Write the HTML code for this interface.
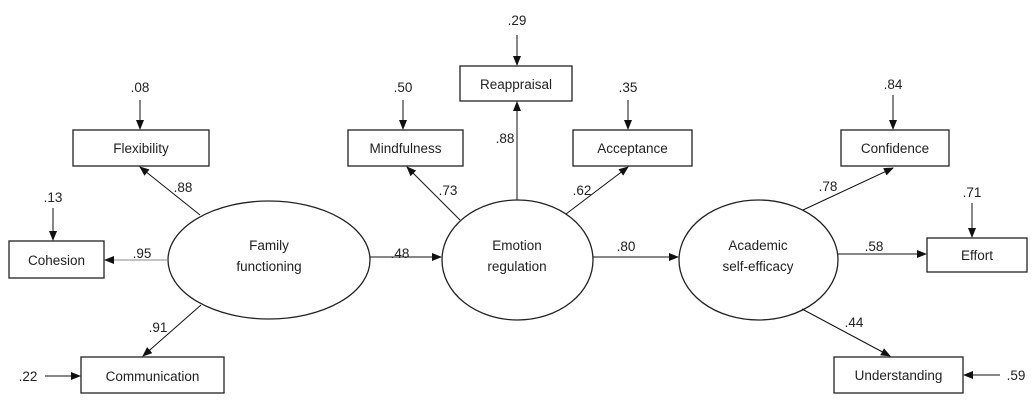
<!DOCTYPE html>
<html><head><meta charset="utf-8"><style>
html,body{margin:0;padding:0;background:#fff;}
svg{display:block;}
text{font-family:"Liberation Sans",sans-serif;font-size:13.5px;fill:#222;}
</style></head><body>
<svg width="1033" height="408" viewBox="0 0 1033 408" xmlns="http://www.w3.org/2000/svg">
<defs><marker id="a" markerWidth="10" markerHeight="8" refX="9" refY="4" orient="auto" markerUnits="userSpaceOnUse"><path d="M0,0 L10,4 L0,8 z" fill="#111"/></marker></defs>
<g fill="#fff" stroke="#222" stroke-width="1.3">
<rect x="73" y="130" width="136" height="36"/>
<rect x="9" y="241" width="95" height="37"/>
<rect x="81" y="357" width="143" height="36"/>
<rect x="348" y="130" width="115" height="36"/>
<rect x="460" y="66" width="112" height="35"/>
<rect x="573" y="130" width="119" height="36"/>
<rect x="841" y="130" width="108" height="36"/>
<rect x="927" y="238" width="100" height="34"/>
<rect x="834" y="357" width="129" height="36"/>
<ellipse cx="269" cy="260" rx="101" ry="59"/>
<ellipse cx="517.5" cy="260" rx="75.5" ry="60"/>
<ellipse cx="758.5" cy="260" rx="79.5" ry="60"/>
</g>
<g stroke="#111" stroke-width="1" marker-end="url(#a)">
<line x1="200" y1="215" x2="140" y2="167"/>
<line x1="168" y1="260" x2="105" y2="260" stroke="#888"/>
<line x1="201" y1="305" x2="143" y2="356"/>
<line x1="140" y1="100" x2="140" y2="129"/>
<line x1="53" y1="208" x2="53" y2="240"/>
<line x1="45" y1="376" x2="80" y2="376"/>
<line x1="370" y1="257" x2="441" y2="257"/>
<line x1="460" y1="220" x2="407" y2="167"/>
<line x1="517" y1="200" x2="517" y2="102"/>
<line x1="517" y1="35" x2="517" y2="65"/>
<line x1="566" y1="214" x2="628" y2="167"/>
<line x1="628" y1="100" x2="628" y2="129"/>
<line x1="403" y1="100" x2="403" y2="129"/>
<line x1="593" y1="257" x2="678" y2="257"/>
<line x1="803" y1="210" x2="893" y2="168"/>
<line x1="893" y1="95" x2="893" y2="129"/>
<line x1="838" y1="254" x2="926" y2="254"/>
<line x1="972" y1="203" x2="972" y2="237"/>
<line x1="802" y1="309" x2="890" y2="356"/>
<line x1="1000" y1="375" x2="964" y2="375"/>
</g>
<g text-anchor="middle">
<text x="141" y="153">Flexibility</text>
<text x="56.5" y="265">Cohesion</text>
<text x="152.5" y="381">Communication</text>
<text x="405.5" y="153">Mindfulness</text>
<text x="516" y="89">Reappraisal</text>
<text x="632.5" y="153">Acceptance</text>
<text x="895" y="153">Confidence</text>
<text x="977" y="260">Effort</text>
<text x="898.5" y="380">Understanding</text>
<text x="269" y="250">Family</text>
<text x="269" y="271">functioning</text>
<text x="517" y="250">Emotion</text>
<text x="517" y="271">regulation</text>
<text x="758" y="250">Academic</text>
<text x="758" y="271">self-efficacy</text>
<text x="140" y="92">.08</text>
<text x="53" y="202">.13</text>
<text x="28" y="381">.22</text>
<text x="183" y="192">.88</text>
<text x="142" y="258">.95</text>
<text x="158" y="332">.91</text>
<text x="400" y="258">.48</text>
<text x="403" y="92">.50</text>
<text x="448" y="195">.73</text>
<text x="517" y="25">.29</text>
<text x="505" y="143">.88</text>
<text x="628" y="92">.35</text>
<text x="582" y="195">.62</text>
<text x="626" y="251">.80</text>
<text x="893" y="89">.84</text>
<text x="828" y="191">.78</text>
<text x="972" y="197">.71</text>
<text x="874" y="251">.58</text>
<text x="854" y="327">.44</text>
<text x="1016" y="380">.59</text>
</g>
</svg>
</body></html>
